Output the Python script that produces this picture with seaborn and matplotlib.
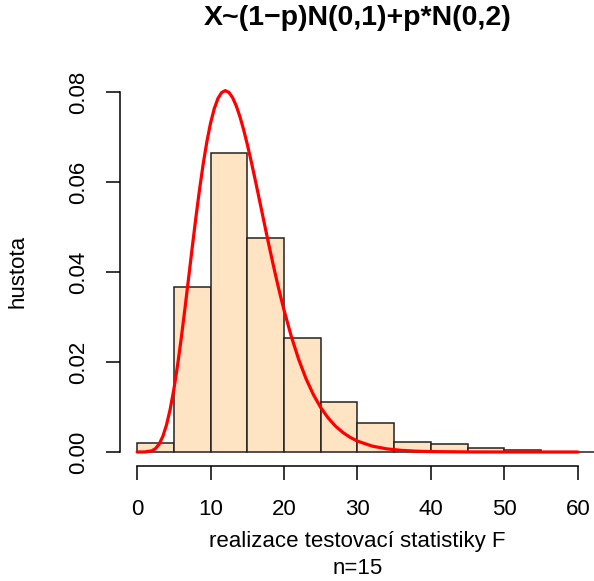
import matplotlib
matplotlib.use("Agg")
import matplotlib.pyplot as plt
import seaborn as sns
import numpy as np
import pandas as pd

# histogram data (bin left edges, width 5) and densities
bin_left = [0, 5, 10, 15, 20, 25, 30, 35, 40, 45, 50, 55, 60, 65]
density = [0.0020, 0.0367, 0.0664, 0.0475, 0.0253, 0.0112, 0.0065, 0.0023,
           0.0017, 0.0009, 0.0004, 0.0001, 0.0001, 0.0001]

# red curve points
curve_x = [0, 1, 2, 2.5, 3, 3.5, 4, 4.5, 5, 5.5, 6, 6.5, 7, 7.5, 8, 8.5, 9, 9.5,
           10, 10.5, 11, 11.5, 12, 12.5, 13, 13.5, 14, 14.5, 15, 15.5, 16, 16.5,
           17, 17.5, 18, 18.5, 19, 19.5, 20, 21, 22, 23, 24, 25, 26, 27, 28, 29,
           30, 32, 34, 36, 38, 40, 45, 50, 55, 60]
curve_y = [0.0, 0.0000066, 0.000255, 0.000759, 0.001765, 0.003466, 0.006015,
           0.009497, 0.01392, 0.01920, 0.02520, 0.03173, 0.03855, 0.04542,
           0.05210, 0.05837, 0.06406, 0.06901, 0.07311, 0.07630, 0.07856,
           0.07988, 0.08031, 0.07991, 0.07874, 0.07691, 0.07450, 0.07162,
           0.06836, 0.06481, 0.06107, 0.05720, 0.05329, 0.04939, 0.04555,
           0.04181, 0.03821, 0.03478, 0.03153, 0.02563, 0.02055, 0.01627,
           0.01274, 0.00987, 0.00758, 0.00576, 0.00435, 0.00326, 0.00242,
           0.00131, 0.000694, 0.00036, 0.000183, 0.000092, 0.000015, 0.0000024,
           0.0000003, 0.0]

x_ticks = [0, 10, 20, 30, 40, 50, 60]
y_ticks = [0.00, 0.02, 0.04, 0.06, 0.08]
title = "X~(1\u2212p)N(0,1)+p*N(0,2)"
xlabel = "realizace testovací statistiky F"
sublabel = "n=15"
ylabel = "hustota"

sns.set_theme(style="white")
plt.rcParams['font.family'] = ['Liberation Sans', 'DejaVu Sans']

W, H = 594, 581
fig = plt.figure(figsize=(W / 100, H / 100), dpi=100)
left, right, top, bottom = 119.5, 594, 76, 466
ax = fig.add_axes([left / W, (H - bottom) / H, (right - left) / W, (bottom - top) / H])

bw = 5
df_hist = pd.DataFrame({"x": [b + bw / 2 for b in bin_left], "density": density})
sns.histplot(data=df_hist, x="x", weights="density", bins=bin_left + [bin_left[-1] + bw],
             stat="count", color="#FFE4C4", alpha=1, edgecolor="#222222",
             linewidth=1.1, ax=ax, clip_on=True)

df_curve = pd.DataFrame({"x": curve_x, "y": curve_y})
sns.lineplot(data=df_curve, x="x", y="y", color="#FF0000", linewidth=2.3, ax=ax,
             zorder=5)

ax.set_xlim(-2.4, 62.2)
ax.set_ylim((452 - 466) / 4500, (452 - 76) / 4500)

for s in ["top", "right"]:
    ax.spines[s].set_visible(False)
for s in ["left", "bottom"]:
    ax.spines[s].set_visible(True)
    ax.spines[s].set_color("black")
    ax.spines[s].set_linewidth(1.1)
ax.spines["left"].set_bounds(0, 0.08)
ax.spines["bottom"].set_bounds(0, 60)

ax.set_xticks(x_ticks)
ax.set_xticklabels([str(t) for t in x_ticks])
ax.set_yticks(y_ticks)
ax.set_yticklabels([f"{t:.2f}" for t in y_ticks], rotation=90, va="center")
ax.tick_params(axis="both", direction="out", length=10, width=1.1, color="black",
               labelsize=16, labelcolor="black", bottom=True, left=True)
ax.tick_params(axis="x", pad=14)
ax.tick_params(axis="y", pad=12)
ax.set_xlabel("")
ax.set_ylabel("")
ax.grid(False)

cx = (left + 595.6) / 2
fig.text(cx / W, 1 - 18 / H, title, ha="center", va="center", fontsize=20.5,
         fontweight="bold", color="black")
fig.text(cx / W, 1 - 542 / H, xlabel, ha="center", va="center", fontsize=16, color="black")
fig.text(cx / W, 1 - 568 / H, sublabel, ha="center", va="center", fontsize=16, color="black")
fig.text(18 / W, 1 - 271 / H, ylabel, ha="center", va="center", rotation=90,
         fontsize=16, color="black")

fig.savefig("out.png", dpi=100)
